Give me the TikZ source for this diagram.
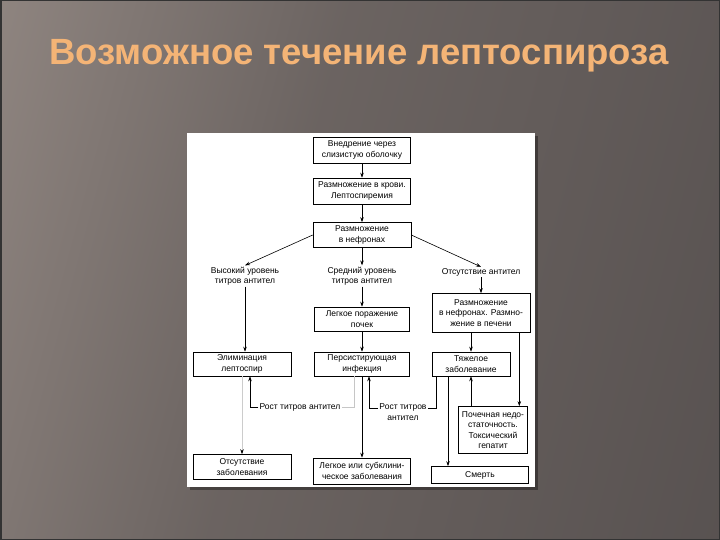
\documentclass[tikz,border=0pt]{standalone}
\usepackage{fontspec}
\setmainfont{Liberation Sans}
\usepackage{tikz}
\usetikzlibrary{calc, shapes, arrows.meta, positioning}
\definecolor{titleorange}{RGB}{244,180,118}
\pgfdeclarehorizontalshading{slidebg}{100bp}{rgb(0bp)=(0.40,0.38,0.37); rgb(22bp)=(0.57,0.53,0.51); rgb(45bp)=(0.42,0.39,0.38); rgb(100bp)=(0.29,0.27,0.27)}
\tikzstyle{block} = [rectangle, draw, text centered, align=center, inner sep=1pt, font=\fontsize{8.5}{10.5}\selectfont]
\tikzstyle{plain} = [align=center, inner sep=1pt, font=\fontsize{8.5}{10.5}\selectfont]

\begin{document}
\begin{tikzpicture}[x=1pt, y=-1pt, line width=0.6pt, >={Stealth[length=5pt,width=3.5pt]}]
        \useasboundingbox (0,0) rectangle (720,540);
        \shade[shading=slidebg, shading angle=-15] (-60,-60) rectangle (780,600);
        \draw[black!80, line width=1.5pt] (0.75,0.75) rectangle (719.25,539.25);
        \node[anchor=base, font=\bfseries\fontsize{36.5}{40}\selectfont, text=titleorange] at (359,65) (title) {Возможное течение лептоспироза};

        \fill[black, opacity=0.35] (190,136) rectangle (538,490);
        \fill[white] (187,133) rectangle (535,487);

        \node[block, minimum width=97pt, minimum height=26pt] at (362,150) (entry) {Внедрение через\\слизистую оболочку};
        \node[block, minimum width=97pt, minimum height=26pt] at (362,191) (blood) {Размножение в крови.\\Лептоспиремия};
        \node[block, minimum width=98pt, minimum height=25pt] at (362,235) (nephron) {Размножение\\в нефронах};

        \node[plain] at (245,276) (high) {Высокий уровень\\титров антител};
        \node[plain] at (362,276) (medium) {Средний уровень\\титров антител};
        \node[plain] at (481,272) (none) {Отсутствие антител};

        \node[block, minimum width=95pt, minimum height=24pt] at (362,319) (kidney) {Легкое поражение\\почек};
        \node[block, minimum width=98pt, minimum height=39pt] at (481,313) (liver) {Размножение\\в нефронах. Размно-\\жение в печени};

        \node[block, minimum width=98pt, minimum height=24pt] at (242,364) (elim) {Элиминация\\лептоспир};
        \node[block, minimum width=95pt, minimum height=24pt] at (362,364) (persist) {Персистирующая\\инфекция};
        \node[block, minimum width=78pt, minimum height=24pt] at (471,364) (severe) {Тяжелое\\заболевание};

        \node[plain] at (300,407) (riseA) {Рост титров антител};
        \node[plain] at (403,412) (riseB) {Рост титров\\антител};
        \node[block, minimum width=69pt, minimum height=47pt] at (493,430) (renal) {Почечная недо-\\статочность.\\Токсический\\гепатит};

        \node[block, minimum width=98pt, minimum height=25pt] at (242,467) (healthy) {Отсутствие\\заболевания};
        \node[block, minimum width=97pt, minimum height=26pt] at (362,471) (mild) {Легкое или субклини-\\ческое заболевания};
        \node[block, minimum width=97pt, minimum height=17pt] at (480,475) (death) {Смерть};

        \draw[->] (entry) -- (blood);
        \draw[->] (blood) -- (nephron);
        \draw[->] (nephron.west) -- (high.north);
        \draw[->] (nephron) -- (medium);
        \draw[->] (nephron.east) -- (none.north);

        \draw[->] (high.south) -- (high.south |- elim.north);
        \draw[->] (medium) -- (kidney);
        \draw[->] (kidney) -- (persist);
        \draw[->] (none) -- (liver);
        \draw[->] (liver.south -| severe.north) -- (severe.north);
        \draw[->] ([xshift=-11pt]liver.south east) -- ([xshift=-11pt]liver.south east |- renal.north);

        \draw[->] (severe.south |- renal.north) -- (severe.south);
        \draw[->, thick] ([xshift=-23pt]severe.south) -- ([xshift=-23pt]severe.south |- death.north);
        \draw ([xshift=-35pt]severe.south) |- ([yshift=-6pt]riseB.north east);
        \draw[->] ([yshift=-6pt]riseB.north west) -| ([xshift=7pt]persist.south);

        \draw[->, thick] (persist) -- (mild);
        \draw[gray!45] ([xshift=-8pt]persist.south) |- (riseA.east);
        \draw[->] (riseA.west) -| ([xshift=8pt]elim.south);
        \draw[gray!40, -{Stealth[length=5pt,width=3.5pt,black]}] (elim) -- (healthy);
    \end{tikzpicture}
\end{document}
